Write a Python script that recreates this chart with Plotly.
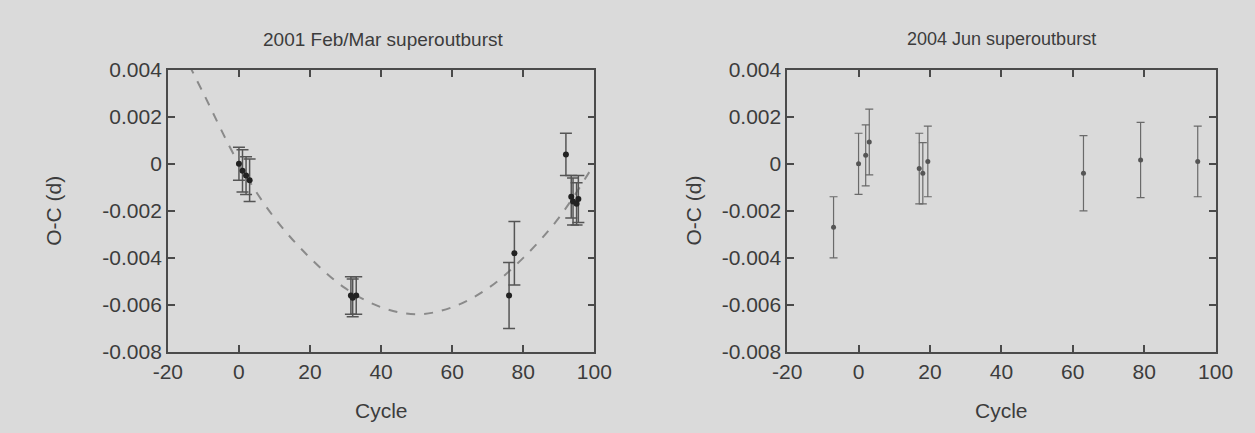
import plotly.graph_objects as go

# ---- 2001 Feb/Mar superoutburst ----
c1_cycle = [0, 1, 2, 3, 31.5, 32, 33, 76, 77.5, 92, 93.5, 94, 95, 95.5]
c1_oc = [0.0000, -0.0003, -0.0005, -0.0007, -0.0056, -0.0057, -0.0056,
         -0.0056, -0.0038, 0.0004, -0.0014, -0.0016, -0.0017, -0.0015]
c1_err = [0.0007, 0.0009, 0.0008, 0.0009, 0.0008, 0.0008, 0.0008,
          0.0014, 0.00135, 0.0009, 0.0009, 0.0010, 0.0009, 0.0010]

# fitted curve
fit_cycle = [-14, -10, 0, 10, 20, 30, 40, 50, 60, 70, 80, 90, 100]
fit_oc = [0.0042, 0.0030, 0.0000, -0.0023, -0.0040, -0.0053, -0.0061,
          -0.0064, -0.0061, -0.0053, -0.0040, -0.0023, 0.0000]

# ---- 2004 Jun superoutburst ----
c2_cycle = [-7, 0, 2, 3, 17, 18, 19.4, 63, 79, 95]
c2_oc = [-0.0027, 0.0000, 0.00036, 0.00093, -0.0002, -0.0004, 0.0001,
         -0.0004, 0.00016, 0.0001]
c2_err = [0.0013, 0.0013, 0.0013, 0.0014, 0.0015, 0.0013, 0.0015,
          0.0016, 0.0016, 0.0015]

xticks = [-20, 0, 20, 40, 60, 80, 100]
xticktext = ["-20", "0", "20", "40", "60", "80", "100"]
yticks = [0.004, 0.002, 0, -0.002, -0.004, -0.006, -0.008]
yticktext = ["0.004", "0.002", "0", "-0.002", "-0.004", "-0.006", "-0.008"]

titles = ["2001 Feb/Mar superoutburst", "2004 Jun superoutburst"]
xlabel = "Cycle"
ylabel = "O-C (d)"

FONT = "Liberation Sans, Arial, sans-serif"
BG = "#dadada"
AX = "#4a4a4a"

fig = go.Figure()

fig.add_trace(go.Scatter(
    x=fit_cycle, y=fit_oc, mode="lines", line_shape="spline",
    line=dict(color="#8a8a8a", width=2, dash="dash"),
    xaxis="x", yaxis="y", showlegend=False, hoverinfo="skip"))

fig.add_trace(go.Scatter(
    x=c1_cycle, y=c1_oc, mode="markers",
    marker=dict(color="#222222", size=6),
    error_y=dict(type="data", array=c1_err, color="#555555", thickness=1.5, width=6),
    xaxis="x", yaxis="y", showlegend=False))

fig.add_trace(go.Scatter(
    x=c2_cycle, y=c2_oc, mode="markers",
    marker=dict(color="#555555", size=5),
    error_y=dict(type="data", array=c2_err, color="#6a6a6a", thickness=1.2, width=4),
    xaxis="x2", yaxis="y2", showlegend=False))

yd = [(433 - 359) / 433, (433 - 61) / 433]
axcommon = dict(showline=True, linecolor=AX, linewidth=1.5, mirror="allticks",
                ticks="inside", ticklen=7, tickwidth=1.5, tickcolor=AX,
                showgrid=False, zeroline=False,
                tickfont=dict(family=FONT, size=21, color="#3c3c3c"))

fig.update_layout(
    width=1255, height=433,
    margin=dict(l=0, r=0, t=0, b=0),
    paper_bgcolor=BG, plot_bgcolor=BG,
    xaxis=dict(domain=[157 / 1255, 595 / 1255], range=[-20, 100],
               tickvals=xticks, ticktext=xticktext, anchor="y", **axcommon),
    yaxis=dict(domain=yd, range=[-0.008, 0.004],
               tickvals=yticks, ticktext=yticktext, anchor="x", **axcommon),
    xaxis2=dict(domain=[793 / 1255, 1233 / 1255], range=[-20, 100],
                tickvals=xticks, ticktext=xticktext, anchor="y2", **axcommon),
    yaxis2=dict(domain=yd, range=[-0.008, 0.004],
                tickvals=yticks, ticktext=yticktext, anchor="x2", **axcommon),
)

ann = []
for cx, t, fs in zip([378, 1013], titles, [19, 18]):
    ann.append(dict(x=cx / 1255, y=1 - 29 / 433, xref="paper", yref="paper",
                    text=t, showarrow=False, xanchor="center", yanchor="middle",
                    font=dict(family=FONT, size=fs, color="#3c3c3c")))
for cx in [376, 1013]:
    ann.append(dict(x=cx / 1255, y=1 - 421 / 433, xref="paper", yref="paper",
                    text=xlabel, showarrow=False, xanchor="center", yanchor="middle",
                    font=dict(family=FONT, size=21, color="#3c3c3c")))
for cx in [40, 697]:
    ann.append(dict(x=cx / 1255, y=1 - 210 / 433, xref="paper", yref="paper",
                    text=ylabel, showarrow=False, xanchor="center", yanchor="middle",
                    textangle=-90,
                    font=dict(family=FONT, size=21, color="#3c3c3c")))
fig.update_layout(annotations=ann)

fig.write_html("out.html")
